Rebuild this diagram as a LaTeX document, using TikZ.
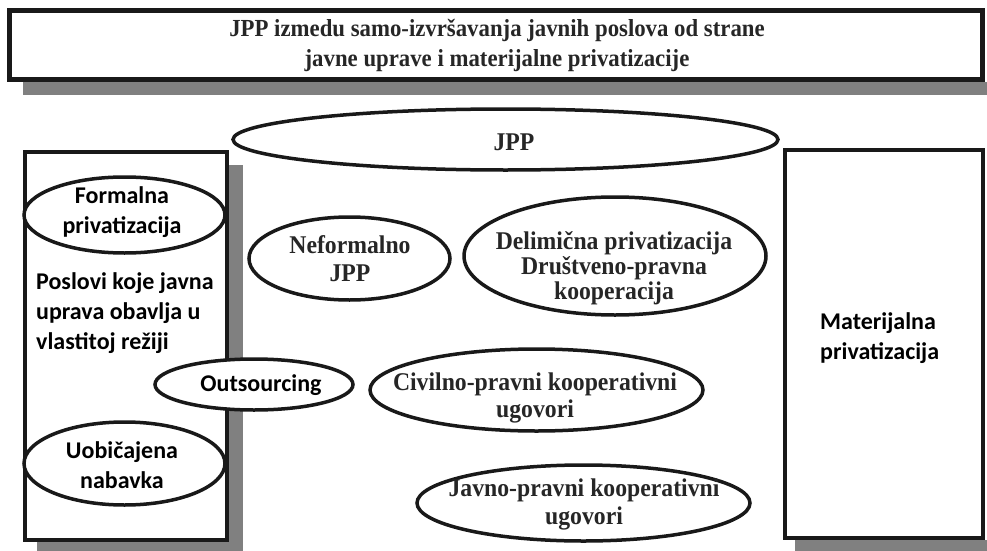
\documentclass[tikz,border=0pt]{standalone}
\usepackage{fontspec}
\setmainfont{Liberation Serif}
\newfontfamily\serc{Liberation Serif}[FakeStretch=0.93]
\newfontfamily\calib{Carlito}
\usetikzlibrary{shapes.geometric}
\begin{document}
\begin{tikzpicture}[x=1pt,y=-1pt,
  boxframe/.style={draw=black!90, line width=4.5pt},
  shadowbar/.style={fill=black!50, draw=none},
  oval/.style={ellipse, draw=black!90, fill=white, line width=3.5pt, inner sep=0pt, outer sep=0pt},
  sertext/.style={font=\fontsize{25.5}{27}\selectfont\serc\bfseries, text=black!85, align=center, inner sep=0pt},
  santext/.style={font=\fontsize{24}{30}\selectfont\calib\bfseries, align=center, inner sep=0pt}
]
\useasboundingbox (0,0) rectangle (987,551);
% shadows
\fill[shadowbar] (23,82) rectangle (987,95);
\fill[shadowbar] (229,165) rectangle (243,551);
\fill[shadowbar] (37,542) rectangle (243,551);
\fill[shadowbar] (795,540) rectangle (987,551);
% boxes
\node[boxframe, fill=white, minimum width=973pt, minimum height=69pt, inner sep=0pt] (titlebox) at (496,45) {};
\node[sertext, font=\fontsize{24.5}{30}\selectfont\serc\bfseries] (title) at (497,45) {JPP izmedu samo-izvršavanja javnih poslova od strane\\javne uprave i materijalne privatizacije};
\node[boxframe, fill=white, minimum width=202pt, minimum height=388pt, inner sep=0pt] (leftbox) at (126,346) {};
\node[boxframe, fill=white, minimum width=198pt, minimum height=388pt, inner sep=0pt] (rightbox) at (884,344) {};
% ellipses
\node[oval, minimum width=545pt, minimum height=61pt] (jpp) at (505.5,139.5) {};
\node[oval, minimum width=201pt, minimum height=76pt] (formal) at (124.5,215) {};
\node[oval, minimum width=201pt, minimum height=83pt] (neform) at (349.5,258.5) {};
\node[oval, minimum width=302pt, minimum height=118pt] (delim) at (615,256) {};
\node[oval, minimum width=198pt, minimum height=51pt] (outs) at (254,384.5) {};
\node[oval, minimum width=333pt, minimum height=82pt] (civil) at (536.5,390) {};
\node[oval, minimum width=201pt, minimum height=83pt] (uob) at (124.5,463.5) {};
\node[oval, minimum width=333pt, minimum height=76pt] (javno) at (583.5,503) {};
% texts
\node[sertext] (jppt) at (514,142) {JPP};
\node[santext] (formalt) at (122,212) {Formalna\\privatizacija};
\node[sertext, font=\fontsize{25.5}{28}\selectfont\serc\bfseries] (neformt) at (350,259) {Neformalno\\JPP};
\node[sertext, font=\fontsize{25.5}{25}\selectfont\serc\bfseries] (delimt) at (614,268) {Delimična privatizacija\\Društveno-pravna\\kooperacija};
\node[santext] (outst) at (261,385) {Outsourcing};
\node[sertext] (civilt) at (535,398) {Civilno-pravni kooperativni\\ugovori};
\node[santext] (uobt) at (122,465) {Uobičajena\\nabavka};
\node[sertext, font=\fontsize{25.5}{28}\selectfont\serc\bfseries] (javnot) at (584,504) {Javno-pravni kooperativni\\ugovori};
\node[santext, align=left, anchor=west] (poslovit) at (36,313) {Poslovi koje javna\\uprava obavlja u\\vlastitoj režiji};
\node[santext, align=left, anchor=west] (matert) at (820,338) {Materijalna\\privatizacija};
\end{tikzpicture}
\end{document}
